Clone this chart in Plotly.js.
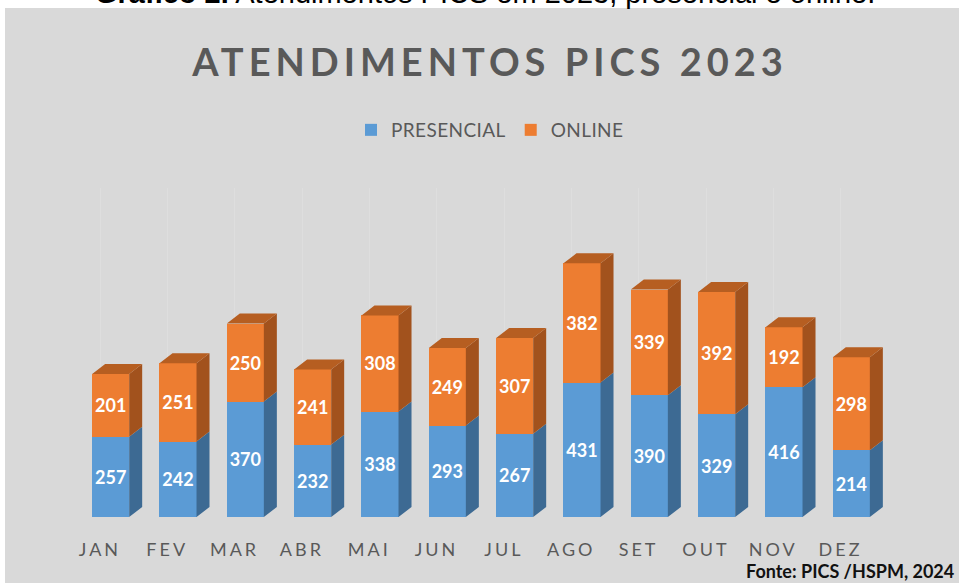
<!DOCTYPE html>
<html>
<head>
<meta charset="utf-8">
<script src="https://cdn.plot.ly/plotly-3.0.1.min.js"></script>
<style>
html,body{margin:0;padding:0;background:#fff;}
#chart{width:959px;height:583px;}
.xtick text{letter-spacing:3px;}
.gtitle{letter-spacing:5px;}
.legendtext{letter-spacing:0.4px;}
</style>
</head>
<body>
<div id="chart"></div>
<script>
const months = ["JAN","FEV","MAR","ABR","MAI","JUN","JUL","AGO","SET","OUT","NOV","DEZ"];
const presencial = [257,242,370,232,338,293,267,431,390,329,416,214];
const online = [201,251,250,241,308,249,307,382,339,392,192,298];

const W = 0.55;      // bar front width (category units)
const DX = 0.193;    // depth offset in x (category units)
const DY = 32;       // depth offset in y (value units)

const idx = months.map((m,i)=>i);
const totals = presencial.map((v,i)=>v+online[i]);

function sidePolys(bottoms, tops){
  const xs=[], ys=[];
  idx.forEach(i=>{
    const xr = i + W/2;
    xs.push(xr, xr+DX, xr+DX, xr, xr, null);
    ys.push(bottoms[i], bottoms[i]+DY, tops[i]+DY, tops[i], bottoms[i], null);
  });
  return {xs, ys};
}
function topPolys(tops){
  const xs=[], ys=[];
  idx.forEach(i=>{
    const xl = i - W/2, xr = i + W/2;
    xs.push(xl, xl+DX, xr+DX, xr, xl, null);
    ys.push(tops[i], tops[i]+DY, tops[i]+DY, tops[i], tops[i], null);
  });
  return {xs, ys};
}

const zeros = idx.map(()=>0);
const blueSide = sidePolys(zeros, presencial);
const orangeSide = sidePolys(presencial, totals);
const orangeTop = topPolys(totals);

const labelFont = {family:"Lato, sans-serif", size:18, color:"#ffffff", weight:700};

const traces = [
  {type:"bar", name:"PRESENCIAL", x:idx, y:presencial, width:W,
   marker:{color:"#5b9bd5", line:{width:0}},
   text:presencial.map(String), textposition:"inside", insidetextanchor:"middle",
   textangle:0, constraintext:"none", insidetextfont:labelFont, hoverinfo:"skip"},
  {type:"bar", name:"ONLINE", x:idx, y:online, width:W,
   marker:{color:"#ed7d31", line:{width:0}},
   text:online.map(String), textposition:"inside", insidetextanchor:"middle",
   textangle:0, constraintext:"none", insidetextfont:labelFont, hoverinfo:"skip"},
  {type:"scatter", mode:"lines", x:blueSide.xs, y:blueSide.ys, fill:"toself",
   fillcolor:"#3d6a93", line:{width:0, color:"#3d6a93"}, showlegend:false, hoverinfo:"skip", cliponaxis:false},
  {type:"scatter", mode:"lines", x:orangeSide.xs, y:orangeSide.ys, fill:"toself",
   fillcolor:"#a2521d", line:{width:0, color:"#a2521d"}, showlegend:false, hoverinfo:"skip", cliponaxis:false},
  {type:"scatter", mode:"lines", x:orangeTop.xs, y:orangeTop.ys, fill:"toself",
   fillcolor:"#b65e21", line:{width:0, color:"#b65e21"}, showlegend:false, hoverinfo:"skip", cliponaxis:false}
];

const L=77, R=74, T=188, B=66;
const plotW = 959-L-R, plotH = 583-T-B;
const px2x = p => (p-L)/plotW;
const py2y = p => 1 + (T-p)/plotH;

const layout = {
  width:959, height:583,
  margin:{l:L, r:R, t:T, b:B, pad:0},
  paper_bgcolor:"#ffffff",
  plot_bgcolor:"rgba(0,0,0,0)",
  barmode:"stack",
  bargap:0,
  showlegend:true,
  title:{text:"ATENDIMENTOS PICS 2023", font:{family:"Lato, sans-serif", size:38, color:"#595959", weight:700},
         xref:"paper", x:px2x(490), xanchor:"center", yref:"container", y:1-63/583, yanchor:"middle"},
  legend:{orientation:"h", x:px2x(490), xanchor:"center", y:py2y(130), yanchor:"middle",
          font:{family:"Lato, sans-serif", size:19, color:"#595959"}, bgcolor:"rgba(0,0,0,0)", traceorder:"normal",
          itemwidth:30},
  xaxis:{range:[-0.5, 11.5], tickmode:"array", tickvals:idx.map(i=>i-0.16), ticktext:months,
         showgrid:false, zeroline:false, showline:false, ticks:"", ticklabelstandoff:20,
         tickfont:{family:"Lato, sans-serif", size:18, color:"#595959"}, fixedrange:true,
         minor:{tickmode:"array", tickvals:[-1].concat(idx).map(i=>i+0.843), showgrid:true, gridcolor:"#dedede", gridwidth:1, ticks:""}},
  yaxis:{range:[0, plotH/0.312], showgrid:false, zeroline:false, showline:false, showticklabels:false, ticks:"", fixedrange:true},
  shapes:[
    {type:"rect", xref:"paper", yref:"paper", layer:"below",
     x0:px2x(5), x1:px2x(965), y0:py2y(590), y1:py2y(8),
     fillcolor:"#d9d9d9", line:{width:0}}
  ],
  annotations:[
    {xref:"paper", yref:"paper", x:px2x(485.5), y:py2y(11), xanchor:"center", yanchor:"bottom",
     text:"<b>Gráfico 2.</b> Atendimentos PICS em 2023, presencial e online.", showarrow:false,
     font:{family:"Liberation Sans, Arial, sans-serif", size:29, color:"#000000"}},
    {xref:"paper", yref:"paper", x:px2x(956), y:py2y(571), xanchor:"right", yanchor:"middle",
     text:"Fonte: PICS /HSPM, 2024", showarrow:false,
     font:{family:"Lato, sans-serif", size:18, color:"#111111", weight:700}}
  ]
};

Plotly.newPlot("chart", traces, layout, {displayModeBar:false, staticPlot:true});
</script>
</body>
</html>
